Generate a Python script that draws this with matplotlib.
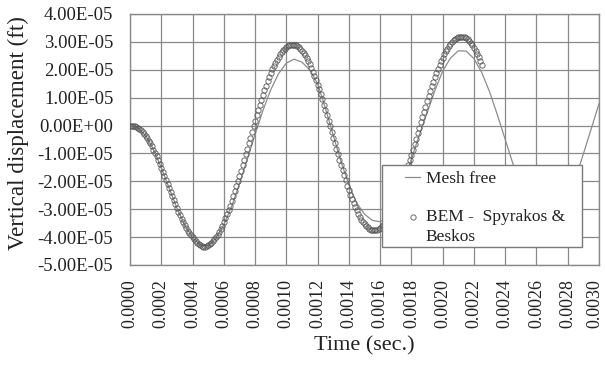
import numpy as np
import matplotlib.pyplot as plt
from matplotlib.patches import Rectangle
from matplotlib.ticker import FuncFormatter
from matplotlib.transforms import ScaledTranslation

plt.rcParams['font.family'] = ['Liberation Serif', 'DejaVu Serif']

# Mesh free solution, one value every 0.00005 s (displacement in 1e-5 ft)
mesh_dt = 0.00005
mesh_disp = [0.00, -0.08, -0.36, -0.86, -1.51, -2.24, -2.96, -3.57, -4.01, -4.29,
             -4.31, -4.04, -3.56, -2.90, -2.09, -1.21, -0.32, 0.54, 1.28, 1.86,
             2.24, 2.38, 2.27, 2.00, 1.50, 0.62, -0.35, -1.30, -2.12, -2.78,
             -3.18, -3.40, -3.45, -3.25, -2.75, -2.05, -1.20, -0.35, 0.45, 1.25,
             1.95, 2.42, 2.68, 2.67, 2.40, 1.90, 1.21, 0.38, -0.50, -1.38,
             -2.19, -2.84, -3.25, -3.43, -3.40, -3.11, -2.59, -1.88, -1.02, -0.12,
             0.78]

# BEM - Spyrakos & Beskos, one value every 0.00001 s (displacement in 1e-5 ft)
bem_dt = 0.00001
bem_disp = [0.00, -0.00, -0.01, -0.03, -0.05, -0.08, -0.12, -0.17, -0.22, -0.29,
            -0.36, -0.44, -0.54, -0.64, -0.74, -0.86, -0.98, -1.10, -1.24, -1.37,
            -1.51, -1.65, -1.80, -1.94, -2.09, -2.24, -2.39, -2.54, -2.68, -2.82,
            -2.96, -3.09, -3.22, -3.34, -3.46, -3.57, -3.67, -3.77, -3.85, -3.94,
            -4.01, -4.08, -4.14, -4.20, -4.25, -4.29, -4.33,
            -4.35, -4.34, -4.33, -4.30, -4.26, -4.21, -4.15, -4.08, -4.00, -3.91,
            -3.81, -3.70, -3.59, -3.46, -3.32, -3.18, -3.03, -2.87, -2.71, -2.54,
            -2.36, -2.18, -2.00, -1.81, -1.62, -1.42, -1.22, -1.02, -0.83, -0.63,
            -0.43, -0.23, -0.03, 0.17, 0.36, 0.55, 0.73, 0.91, 1.09, 1.26,
            1.42, 1.58, 1.73, 1.87, 2.01, 2.14, 2.25, 2.36, 2.46, 2.55,
            2.63, 2.70, 2.76, 2.81, 2.85, 2.88, 2.89,
            2.90, 2.89, 2.88, 2.85, 2.80, 2.75, 2.68, 2.61, 2.52, 2.42,
            2.31, 2.19, 2.06, 1.93, 1.78, 1.63, 1.46, 1.30, 1.12, 0.94,
            0.75, 0.56, 0.37, 0.18, -0.02, -0.22, -0.43, -0.63, -0.83, -1.03,
            -1.22, -1.41, -1.60, -1.79, -1.97, -2.15, -2.31, -2.48, -2.63, -2.78,
            -2.91, -3.04, -3.16, -3.27, -3.37, -3.46, -3.53, -3.60, -3.65, -3.70,
            -3.73, -3.74,
            -3.75, -3.74, -3.73, -3.70, -3.66, -3.61, -3.56, -3.49, -3.41, -3.32,
            -3.22, -3.11, -2.99, -2.87, -2.73, -2.59, -2.44, -2.29, -2.13, -1.96,
            -1.79, -1.61, -1.43, -1.24, -1.05, -0.86, -0.67, -0.47, -0.28, -0.09,
            0.11, 0.30, 0.49, 0.68, 0.87, 1.05, 1.23, 1.40, 1.57, 1.73,
            1.88, 2.03, 2.17, 2.31, 2.43, 2.55, 2.66, 2.76, 2.85, 2.93,
            3.00, 3.05, 3.10, 3.14, 3.17, 3.18,
            3.19, 3.18, 3.16, 3.13, 3.09, 3.03, 2.96, 2.88, 2.79, 2.69,
            2.57, 2.45, 2.31, 2.17]

x_ticks = [0.0000, 0.0002, 0.0004, 0.0006, 0.0008, 0.0010, 0.0012, 0.0014,
           0.0016, 0.0018, 0.0020, 0.0022, 0.0024, 0.0026, 0.0028, 0.0030]
y_ticks = [-5e-05, -4e-05, -3e-05, -2e-05, -1e-05, 0.0, 1e-05, 2e-05, 3e-05, 4e-05]

mesh_time = np.arange(len(mesh_disp)) * mesh_dt
bem_time = np.arange(len(bem_disp)) * bem_dt
mesh_disp = np.array(mesh_disp) * 1e-5
bem_disp = np.array(bem_disp) * 1e-5

fig = plt.figure(figsize=(6.05, 3.65), dpi=100)
ax = fig.add_axes([0.2149, 0.274, 0.7752, 0.6877])

ax.plot(mesh_time, mesh_disp, color='#8c8c8c', lw=0.9, label='Mesh free', zorder=3)
ax.plot(bem_time, bem_disp, ls='none', marker='o', ms=3.8, mfc='none',
        mec='#555555', mew=0.6, label='BEM -  Spyrakos &\nBeskos', zorder=3)

ax.set_xlim(x_ticks[0], x_ticks[-1])
ax.set_ylim(y_ticks[0], y_ticks[-1])
ax.set_xticks(x_ticks)
ax.set_yticks(y_ticks)
ax.xaxis.set_major_formatter(FuncFormatter(lambda v, p: f"{v:.4f}"))
ax.yaxis.set_major_formatter(FuncFormatter(lambda v, p: f"{v:.2E}"))
ax.tick_params(axis='x', length=0, pad=10, labelsize=13, labelrotation=90, colors='#222222')
ax.tick_params(axis='y', length=0, pad=12, labelsize=13.5, colors='#222222')
ax.grid(True, color='#8a8a8a', lw=0.9)
ax.set_axisbelow(True)
for s in ax.spines.values():
    s.set_color('#8a8a8a')
    s.set_linewidth(1.0)

# last tick label sits at the picture edge, nudge it inwards a little
last = ax.get_xticklabels()[-1]
last.set_transform(last.get_transform() + ScaledTranslation(-3 / 72, 0, fig.dpi_scale_trans))

ax.set_xlabel('Time (sec.)', fontsize=16, color='#222222')
ax.xaxis.set_label_coords(0.5, -0.283)
ax.set_ylabel('Vertical displacement (ft)', fontsize=16.6, color='#222222')
ax.yaxis.set_label_coords(-0.215, 0.524)

# legend box drawn over the curves
ax.add_patch(Rectangle((0.537, 0.0717), 0.427, 0.327, transform=ax.transAxes,
                       facecolor='white', edgecolor='#7a7a7a', lw=1.0, zorder=4))
leg = ax.legend(loc='upper left', bbox_to_anchor=(0.586, 0.374), frameon=False,
                fontsize=12.5, borderpad=0, borderaxespad=0, handlelength=0.9,
                handletextpad=0.3, labelspacing=1.25, labelcolor='#222222')
for t in leg.get_texts():
    t.set_linespacing(1.35)
leg.set_zorder(5)
# keep the BEM marker level with the first line of its label
bem_handle = leg.legend_handles[1]
bem_handle.set_ydata(np.asarray(bem_handle.get_ydata()) + 7)

fig.savefig('out.png', dpi=100, facecolor='white')
